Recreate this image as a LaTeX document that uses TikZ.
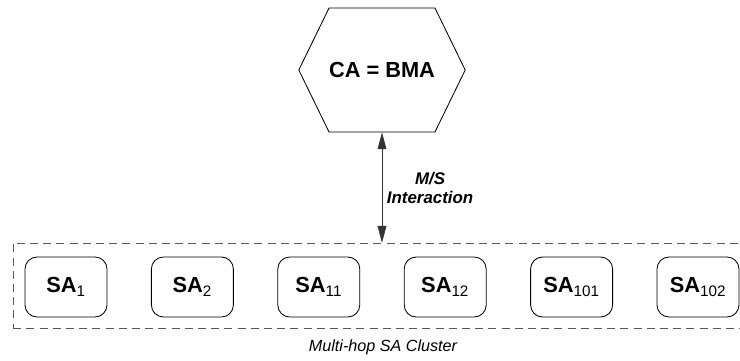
\documentclass[tikz,border=0pt]{standalone}
\usepackage{fontspec}
\setmainfont{Liberation Sans}
\usetikzlibrary{arrows.meta,positioning,shapes.symbols}
\newcommand{\sasub}[1]{\textsubscript{\normalfont #1}}

\begin{document}
\begin{tikzpicture}[>={Triangle[length=0.42cm,width=0.22cm]},node distance=3.16cm,
    sa/.style={draw,line width=0.6pt,rounded corners=0.3cm,minimum width=2.05cm,minimum height=1.5cm,font=\fontsize{15.5}{18}\selectfont\bfseries}]
  \useasboundingbox (0,0) rectangle (18.5,9);
  \node (ca) [signal,signal to=east and west,signal pointer angle=128,draw,line width=0.6pt,minimum width=4.03cm,minimum height=3.1cm,inner sep=0pt,font=\fontsize{15.5}{18}\selectfont\bfseries] at (9.55,7.25) {CA = BMA};
  \node (cluster) [draw=black!65,dash pattern=on 0.2cm off 0.13cm,minimum width=18.225cm,minimum height=2.125cm] at (9.44,1.8625) {};
  \node (sa1) [sa] at (1.65,1.825) {SA\sasub{1}};
  \node (sa2) [sa,right of=sa1] {SA\sasub{2}};
  \node (sa11) [sa,right of=sa2] {SA\sasub{11}};
  \node (sa12) [sa,right of=sa11] {SA\sasub{12}};
  \node (sa101) [sa,right of=sa12] {SA\sasub{101}};
  \node (sa102) [sa,right of=sa101] {SA\sasub{102}};
  \draw[<->,black!80] (ca.south) -- (ca.south |- cluster.north)
    node[midway,right,align=center,text=black,font=\fontsize{12}{13.5}\selectfont\bfseries\itshape] {M/S\\Interaction};
  \node (lbl) at (9.575,0.325) [font=\fontsize{11.5}{13}\selectfont\itshape] {Multi-hop SA Cluster};
\end{tikzpicture}
\end{document}
